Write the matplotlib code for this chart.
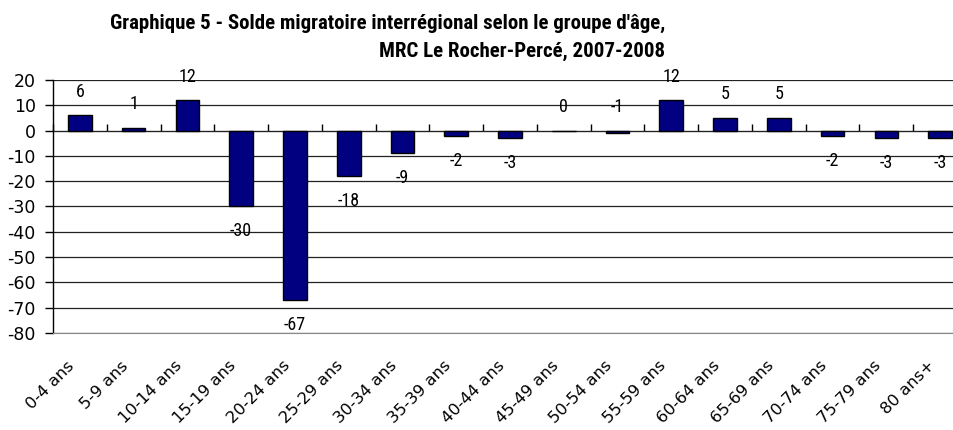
import matplotlib
matplotlib.use("Agg")
import matplotlib.pyplot as plt
import matplotlib.transforms as mtransforms
import numpy as np

# Solde migratoire interrégional par groupe d'âge
groupes = ["0-4 ans", "5-9 ans", "10-14 ans", "15-19 ans", "20-24 ans", "25-29 ans",
           "30-34 ans", "35-39 ans", "40-44 ans", "45-49 ans", "50-54 ans", "55-59 ans",
           "60-64 ans", "65-69 ans", "70-74 ans", "75-79 ans", "80 ans+"]
solde = [6, 1, 12, -30, -67, -18, -9, -2, -3, 0, -1, 12, 5, 5, -2, -3, -3]

titre = ("Graphique 5 - Solde migratoire interrégional selon le groupe d'âge,\n"
         "MRC Le Rocher-Percé, 2007-2008")

plt.rcParams["axes.unicode_minus"] = False
etroite = ["Roboto Condensed", "Liberation Sans Narrow", "Roboto", "DejaVu Sans"]

fig = plt.figure(figsize=(9.54, 4.30), dpi=100)
# la zone de tracé dépasse à droite (coupée comme dans l'original)
ax = fig.add_axes([53 / 954, 1 - 333 / 430, 914 / 954, 253 / 430])

x = np.arange(len(groupes))
ax.bar(x, solde, width=0.44, color="#000080", edgecolor="black", linewidth=1, zorder=3)

ax.set_xlim(-0.5, len(groupes) - 0.5)
ax.set_ylim(-80, 20)
ax.set_yticks(np.arange(-80, 21, 10))
ax.tick_params(axis="y", direction="out", length=5.5, width=1, labelsize=12.5, pad=7)
for lab in ax.get_yticklabels():
    lab.set_family("DejaVu Sans")
ax.yaxis.grid(True, color="#222222", linewidth=0.9, zorder=0)

for s in ["top", "right"]:
    ax.spines[s].set_visible(False)
ax.spines["left"].set_linewidth(1)
ax.spines["bottom"].set_color("#888888")

# étiquettes de catégories en bas
ax.set_xticks(x)
ax.set_xticklabels(groupes, rotation=45, ha="right", rotation_mode="anchor",
                   fontsize=11.8, family="DejaVu Sans")
ax.tick_params(axis="x", length=0, pad=18)
decal = mtransforms.ScaledTranslation(-13 / 100, 0, fig.dpi_scale_trans)
for lab in ax.get_xticklabels():
    lab.set_transform(lab.get_transform() + decal)

# axe horizontal à zéro avec graduations entre les catégories
frac0 = (0 - (-80)) / 100
sec = ax.secondary_xaxis(frac0)
sec.set_xticks(np.arange(len(groupes) + 1) - 0.5)
sec.set_xticklabels([])
sec.tick_params(direction="out", length=5, width=1)
sec.spines["bottom"].set_linewidth(1)

# étiquettes de données
for xi, v in zip(x, solde):
    if v >= -1:
        ax.annotate(str(v), (xi, max(v, 0)), xytext=(0, 17), textcoords="offset points",
                    ha="center", va="center", fontsize=13, family=etroite)
    else:
        ax.annotate(str(v), (xi, v), xytext=(0, -18), textcoords="offset points",
                    ha="center", va="center", fontsize=13, family=etroite)

fig.text(665 / 954, 1 - 14 / 430, titre, ha="right", va="top", fontsize=15,
         fontweight="bold", family=etroite, linespacing=1.56)

fig.savefig("out.png", dpi=100)
